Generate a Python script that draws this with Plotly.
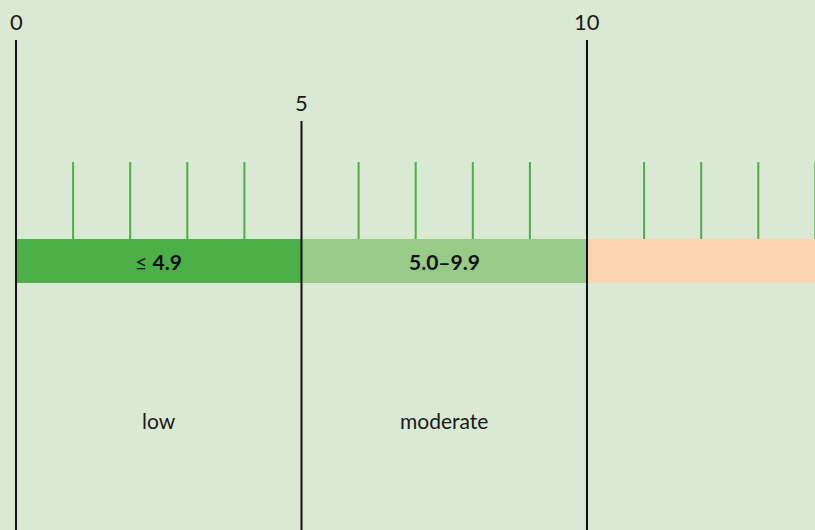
import plotly.graph_objects as go

# ---- data ----
band_starts = [0, 5, 10]
band_widths = [5, 5, 4.5]
band_colors = ["#4caf47", "#98ca88", "#fbd5b0"]
band_labels = ["≤ 4.9", "5.0–9.9", ""]
level_labels = ["low", "moderate", ""]
major_ticks = [0, 5, 10]
major_tick_labels = ["0", "5", "10"]
major_tick_tops = [40, 121, 40]          # vertical screen units (top of line)
minor_ticks = [1, 2, 3, 4, 6, 7, 8, 9, 11, 12, 13, 14]

BG = "#d9e9d3"
FONT = "Lato, Roboto, sans-serif"
BAR_Y, BAR_H = 261, 44
MINOR_TOP, MINOR_BOT = 162, 239
LINE_BOTTOM = 530

fig = go.Figure()

# bands
fig.add_trace(go.Bar(
    orientation="h",
    x=band_widths, base=band_starts, y=[BAR_Y] * len(band_starts),
    width=BAR_H, marker=dict(color=band_colors, line=dict(width=0)),
    hoverinfo="skip", showlegend=False,
))

# minor ticks
mx, my = [], []
for t in minor_ticks:
    mx += [t, t, None]
    my += [MINOR_TOP, MINOR_BOT, None]
fig.add_trace(go.Scatter(x=mx, y=my, mode="lines",
                         line=dict(color="#4caf47", width=2),
                         hoverinfo="skip", showlegend=False))

# major lines
Mx, My = [], []
for t, top in zip(major_ticks, major_tick_tops):
    Mx += [t, t, None]
    My += [top, LINE_BOTTOM, None]
fig.add_trace(go.Scatter(x=Mx, y=My, mode="lines",
                         line=dict(color="#111111", width=2),
                         hoverinfo="skip", showlegend=False))


def fmt_band(lab):
    if lab.startswith("≤"):
        return "≤ <b>" + lab[1:].strip() + "</b>"
    return "<b>" + lab + "</b>"


annotations = []
for t, lab, top in zip(major_ticks, major_tick_labels, major_tick_tops):
    annotations.append(dict(x=t, y=top - 3, text=lab, showarrow=False,
                            xanchor="center", yanchor="bottom",
                            font=dict(family=FONT, size=22, color="#1a1a1a")))
for s, w, lab in zip(band_starts, band_widths, band_labels):
    if lab:
        annotations.append(dict(x=s + w / 2, y=BAR_Y, text=fmt_band(lab),
                                showarrow=False, xanchor="center", yanchor="middle",
                                font=dict(family=FONT, size=21, color="#111111")))
for s, w, lab in zip(band_starts, band_widths, level_labels):
    if lab:
        annotations.append(dict(x=s + w / 2, y=420, text=lab,
                                showarrow=False, xanchor="center", yanchor="middle",
                                font=dict(family=FONT, size=21, color="#1a1a1a")))

fig.update_layout(
    width=815, height=530,
    margin=dict(l=0, r=0, t=0, b=0),
    paper_bgcolor=BG, plot_bgcolor=BG,
    bargap=0,
    xaxis=dict(range=[-16 / 57.1, 799 / 57.1], visible=False, fixedrange=True),
    yaxis=dict(range=[530, 0], visible=False, fixedrange=True),
    annotations=annotations,
)

fig.write_html("out.html", config={"displayModeBar": False, "staticPlot": True})

# remove default page margin so the figure fills the window
with open("out.html", "r", encoding="utf-8") as f:
    html = f.read()
html = html.replace("<body>", '<body style="margin:0;padding:0;">', 1)
html = html.replace("<head>", "<head><style>html,body{margin:0;padding:0;overflow:hidden;}</style>", 1)
with open("out.html", "w", encoding="utf-8") as f:
    f.write(html)
